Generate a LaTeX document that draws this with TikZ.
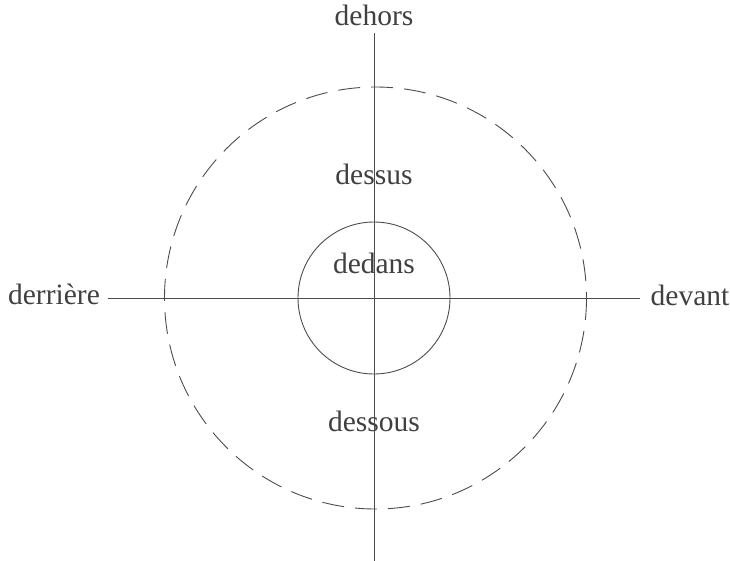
\documentclass[tikz,border=0pt]{standalone}
\usepackage{fontspec}
\setmainfont{Liberation Serif}
\begin{document}
\begin{tikzpicture}[x=1pt,y=-1pt,
  lbl/.style={anchor=base,inner sep=0pt,text=black!75,font=\fontsize{29.5}{32}\selectfont},
  ln/.style={draw=black!70,line width=0.9pt}]
\useasboundingbox (0,0) rectangle (730,561);
\coordinate (c) at (374,298);
\node[lbl] (dehors) at (374,26) {dehors};
\node[lbl] (dessus) at (374,185) {dessus};
\node[lbl] (dedans) at (374,273) {dedans};
\node[lbl] (dessous) at (374,431) {dessous};
\node[lbl] (derriere) at (54,304) {derrière};
\node[lbl] (devant) at (690,305) {devant};
\coordinate (top) at (374,33);
\coordinate (bot) at (374,561);
\coordinate (left) at (108,298);
\coordinate (right) at (640,298);
\draw[ln] (top) -- (bot);
\draw[ln] (left) -- (right);
\draw[ln] (c) circle[radius=76];
\draw[ln,dash pattern=on 22pt off 11pt] (375.5,298) circle[radius=211];
\end{tikzpicture}
\end{document}
